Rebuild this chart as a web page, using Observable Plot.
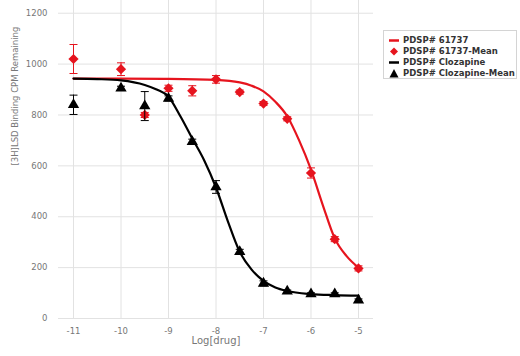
<!DOCTYPE html>
<html><head><meta charset="utf-8">
<script src="https://cdn.jsdelivr.net/npm/d3@7"></script>
<script src="https://cdn.jsdelivr.net/npm/@observablehq/plot@0.6"></script>
<style>
body{margin:0;background:#fff}
#wrap{position:relative;width:520px;height:356px;overflow:hidden}
#legend{position:absolute;left:383px;top:30px;width:134px;height:49px;border:1px solid #d4d4d4;box-sizing:border-box;
  font:bold 8.5px "DejaVu Sans",sans-serif;color:#333;padding-top:4px}
#legend .row{height:11px;line-height:11px;white-space:nowrap;display:flex;align-items:center}
#legend svg{width:19px;height:11px;flex:none}
</style></head><body><div id="wrap"></div>
<script>
// measured data
const doses = [-11, -10, -9.5, -9, -8.5, -8, -7.5, -7, -6.5, -6, -5.5, -5];
const mean61737 = [1020, 980, 800, 905, 895, 940, 890, 845, 785, 572, 312, 197];
const err61737  = [57, 25, 10, 12, 20, 15, 8, 8, 8, 20, 10, 10];
const meanClozapine = [840, 905, 835, 865, 695, 517, 262, 138, 107, 96, 96, 72];
const errClozapine  = [38, 8, 57, 10, 10, 25, 10, 10, 5, 5, 5, 5];

// fitted curves
const fitX61737 = [-11, -10, -9, -8, -7.5, -7.25, -7, -6.75, -6.5, -6.25, -6, -5.75, -5.5, -5.25, -5];
const fitY61737 = [943, 943, 942, 938, 928, 915, 893, 852, 795, 700, 585, 445, 315, 245, 200];
const fitXClozapine = [-11, -10.5, -10, -9.5, -9.25, -9, -8.75, -8.5, -8.25, -8, -7.75, -7.5, -7.25, -7, -6.75, -6.5, -6, -5.5, -5];
const fitYClozapine = [943, 941, 936, 918, 900, 872, 795, 708, 622, 515, 382, 262, 192, 148, 122, 108, 96, 92, 90];

const xTicks = [-11, -10, -9, -8, -7, -6, -5];
const yTicks = [0, 200, 400, 600, 800, 1000, 1200];
const xTitle = "Log[drug]";
const yTitle = "[3H]LSD Binding CPM Remaining";
const legendLabels = ["PDSP# 61737", "PDSP# 61737-Mean", "PDSP# Clozapine", "PDSP# Clozapine-Mean"];

const RED = "#e6141e", BLACK = "#000";

const ptsA = doses.map((x, i) => ({x, mean: mean61737[i], err: err61737[i]}));
const ptsC = doses.map((x, i) => ({x, mean: meanClozapine[i], err: errClozapine[i]}));
const fitA = fitX61737.map((x, i) => ({x, y: fitY61737[i]}));
const fitC = fitXClozapine.map((x, i) => ({x, y: fitYClozapine[i]}));

const cap = {draw(ctx) { ctx.moveTo(-4, 0); ctx.lineTo(4, 0); }};

function errMarks(pts, color) {
  return [
    Plot.ruleX(pts, {x: "x", y1: d => d.mean - d.err, y2: d => d.mean + d.err, stroke: color, strokeWidth: 1}),
    Plot.dot(pts, {x: "x", y: d => d.mean + d.err, symbol: cap, stroke: color, fill: "none", strokeWidth: 1}),
    Plot.dot(pts, {x: "x", y: d => d.mean - d.err, symbol: cap, stroke: color, fill: "none", strokeWidth: 1})
  ];
}

const chart = Plot.plot({
  width: 520, height: 356,
  marginLeft: 58, marginRight: 147, marginTop: 0, marginBottom: 38,
  style: {fontFamily: "DejaVu Sans, sans-serif", fontSize: "8.5px", background: "#fff", overflow: "visible"},
  x: {domain: [-11.316, -4.684]},
  y: {domain: [0, 1250]},
  marks: [
    Plot.gridX(xTicks, {stroke: "#e2e2e2", strokeOpacity: 1, y1: 0, y2: 1250}),
    Plot.gridY(yTicks, {stroke: "#e2e2e2", strokeOpacity: 1}),
    Plot.axisX(xTicks, {tickSize: 0, tickPadding: 9, tickFormat: d => String(d), fill: "#777", label: null}),
    Plot.axisY(yTicks, {tickSize: 0, tickPadding: 11, tickFormat: d => String(d), fill: "#777", label: null}),
    Plot.text([xTitle], {frameAnchor: "bottom", dy: 25, fontSize: 10, fill: "#777", text: d => d}),
    Plot.text([yTitle], {frameAnchor: "left", dx: -43, dy: 6, rotate: -90, fontSize: 8.5, fill: "#777", text: d => d}),
    Plot.line(fitA, {x: "x", y: "y", stroke: RED, strokeWidth: 2.2, curve: "monotone-x"}),
    Plot.line(fitC, {x: "x", y: "y", stroke: BLACK, strokeWidth: 2.2, curve: "monotone-x"}),
    ...errMarks(ptsA, RED),
    Plot.dot(ptsA, {x: "x", y: "mean", symbol: "diamond2", r: 4.6, fill: RED, stroke: "none"}),
    ...errMarks(ptsC, BLACK),
    Plot.dot(ptsC, {x: "x", y: "mean", symbol: "triangle", r: 4.2, fill: BLACK, stroke: "none"})
  ]
});

const wrap = document.getElementById("wrap");
wrap.appendChild(chart);

// legend
const legend = document.createElement("div");
legend.id = "legend";
const icons = [
  `<line x1="5" x2="15" y1="5.5" y2="5.5" stroke="${RED}" stroke-width="2.5"/>`,
  `<path d="M10,1.5L14,5.5L10,9.5L6,5.5Z" fill="${RED}"/>`,
  `<line x1="5" x2="15" y1="5.5" y2="5.5" stroke="${BLACK}" stroke-width="2.5"/>`,
  `<path d="M10,1L14.5,9.5L5.5,9.5Z" fill="${BLACK}"/>`
];
legendLabels.forEach((t, i) => {
  const row = document.createElement("div");
  row.className = "row";
  row.innerHTML = `<svg viewBox="0 0 19 11">${icons[i]}</svg>`;
  const span = document.createElement("span");
  span.textContent = t;
  row.appendChild(span);
  legend.appendChild(row);
});
wrap.appendChild(legend);
</script></body></html>
